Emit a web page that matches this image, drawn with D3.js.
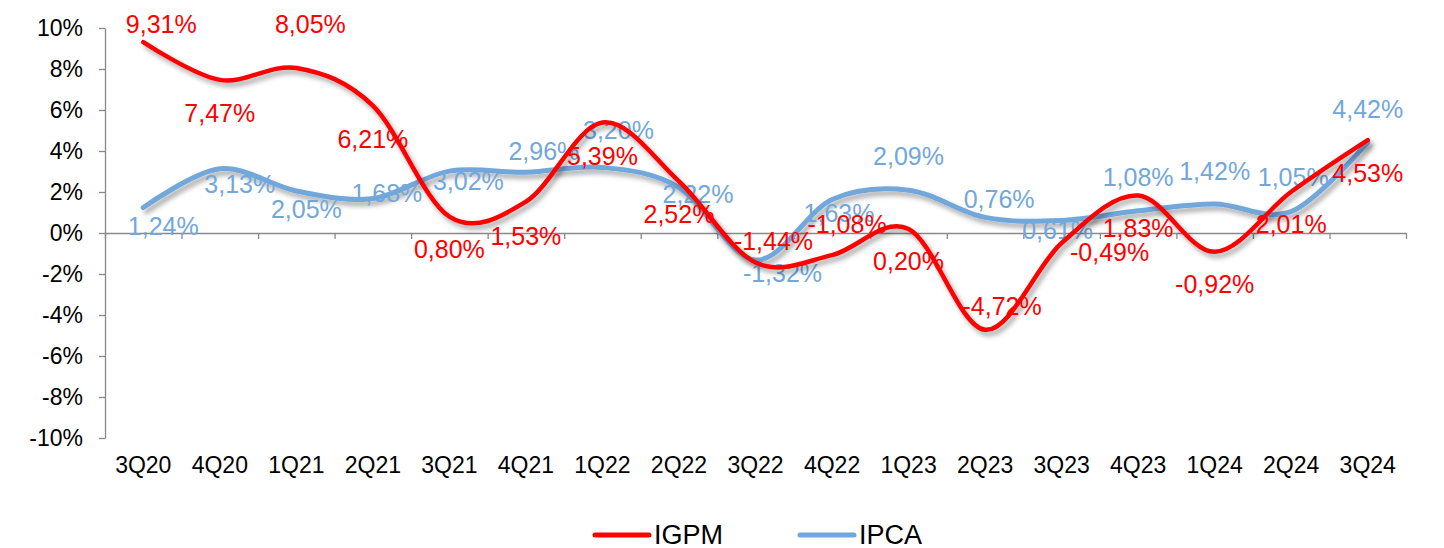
<!DOCTYPE html>
<html lang="pt">
<head>
  <meta charset="UTF-8">
  <title>IGPM x IPCA</title>
  <style>
    body { margin: 0; background: #fff; }
    text { font-family: "Liberation Sans", Arial, sans-serif; }
    .axis path, .axis line { stroke: #898989; stroke-width: 1.3px; }
    .axis text { font-size: 23px; fill: #000; }
    .lbl { font-size: 25px; text-anchor: middle; }
  </style>
</head>
<body>
  <script src="https://d3js.org/d3.v7.min.js"></script>
  <script>
    // categorias (trimestres)
    const quarters = ["3Q20", "4Q20", "1Q21", "2Q21", "3Q21", "4Q21", "1Q22", "2Q22", "3Q22",
                      "4Q22", "1Q23", "2Q23", "3Q23", "4Q23", "1Q24", "2Q24", "3Q24"];

    // séries (% no trimestre)
    const igpm = [9.31, 7.47, 8.05, 6.21, 0.80, 1.53, 5.39, 2.52, -1.44, -1.08, 0.20, -4.72, -0.49, 1.83, -0.92, 2.01, 4.53];
    const ipca = [1.24, 3.13, 2.05, 1.68, 3.02, 2.96, 3.20, 2.22, -1.32, 1.63, 2.09, 0.76, 0.61, 1.08, 1.42, 1.05, 4.42];

    // ticks do eixo y
    const yTicks = [-10, -8, -6, -4, -2, 0, 2, 4, 6, 8, 10];

    // deslocamento dos rótulos (px) em relação ao ponto
    const igpmLabelOffset = [[18,-9],[0,42],[14,-35],[0,42],[0,41],[0,43],[0,42],[0,42],[18,-13],
                             [15,-22],[0,41],[17,-15],[48,18],[0,42],[0,41],[0,41],[0,42]];
    const ipcaLabelOffset = [[20,27],[20,24],[10,27],[14,3],[19,19],[18,-12],[16,-28],[19,16],[27,22],
                             [7,22],[0,-25],[14,-9],[-4,19],[0,-25],[0,-24],[2,-25],[0,-24]];

    const width = 1444, height = 548;
    const red = "#ff0000", blue = "#72a7dc";

    const svg = d3.select("body").append("svg")
      .attr("width", width)
      .attr("height", height);

    // sombra das linhas
    svg.append("defs").append("filter")
        .attr("id", "shadow")
        .attr("x", "-10%").attr("y", "-10%")
        .attr("width", "120%").attr("height", "130%")
      .append("feDropShadow")
        .attr("dx", 3).attr("dy", 4)
        .attr("stdDeviation", 2.5)
        .attr("flood-color", "#000")
        .attr("flood-opacity", 0.35);

    const x = d3.scaleBand().domain(quarters).range([105, 1406]);
    const y = d3.scaleLinear().domain([-10, 10]).range([438, 28]);
    const cx = i => x(quarters[i]) + x.bandwidth() / 2;

    // eixo y
    svg.append("g")
      .attr("class", "axis")
      .attr("transform", "translate(105,0)")
      .call(d3.axisLeft(y).tickValues(yTicks).tickSize(6).tickSizeOuter(0).tickPadding(16)
        .tickFormat(d => d + "%"));

    // eixo x na linha do zero (ticks entre categorias)
    const xb = d3.scaleLinear().domain([0, quarters.length]).range([105, 1406]);
    svg.append("g")
      .attr("class", "axis")
      .attr("transform", `translate(0,${y(0)})`)
      .call(d3.axisBottom(xb).tickValues(d3.range(quarters.length + 1)).tickSize(6).tickSizeOuter(0)
        .tickFormat(""));

    // rótulos das categorias
    const xl = svg.append("g")
      .attr("class", "axis")
      .attr("transform", "translate(0,438)")
      .call(d3.axisBottom(x).tickSize(0).tickPadding(19));
    xl.select(".domain").remove();

    const line = d3.line()
      .x((d, i) => cx(i))
      .y(d => y(d))
      .curve(d3.curveCardinal);

    const fmt = v => v.toFixed(2).replace(".", ",") + "%";

    function series(values, color, w, offsets) {
      svg.append("path")
        .datum(values)
        .attr("d", line)
        .attr("fill", "none")
        .attr("stroke", color)
        .attr("stroke-width", w)
        .attr("stroke-linecap", "round")
        .attr("stroke-linejoin", "round")
        .attr("filter", "url(#shadow)");

      svg.append("g").selectAll("text")
        .data(values)
        .join("text")
        .attr("class", "lbl")
        .attr("x", (d, i) => cx(i) + offsets[i][0])
        .attr("y", (d, i) => y(d) + offsets[i][1])
        .attr("fill", color)
        .text(fmt);
    }

    series(ipca, blue, 5, ipcaLabelOffset);
    series(igpm, red, 4.5, igpmLabelOffset);

    // legenda
    const legendItems = [["IGPM", red], ["IPCA", blue]];
    const legend = svg.append("g").attr("transform", "translate(595,535)");
    legendItems.forEach(([name, color], i) => {
      const g = legend.append("g").attr("transform", `translate(${i * 205},0)`);
      g.append("line")
        .attr("x1", 0).attr("x2", 54)
        .attr("stroke", color)
        .attr("stroke-width", 5)
        .attr("stroke-linecap", "round");
      g.append("text")
        .attr("x", 59).attr("y", 9)
        .attr("font-size", "27px")
        .attr("fill", "#000")
        .text(name);
    });
  </script>
</body>
</html>
